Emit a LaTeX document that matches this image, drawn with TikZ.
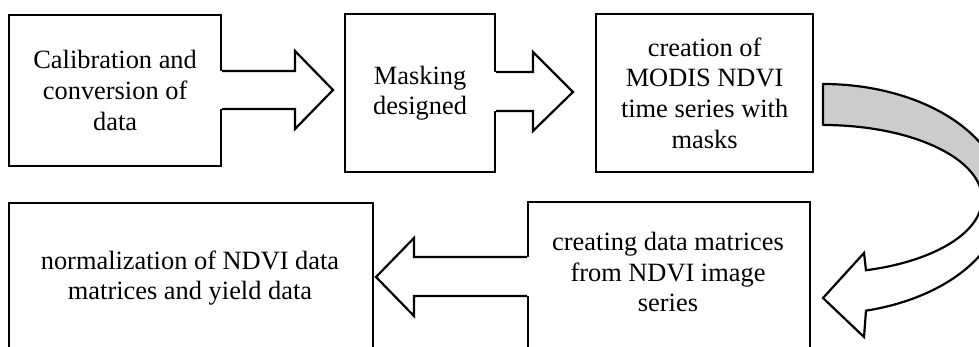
\documentclass[tikz,border=0pt]{standalone}
\usepackage{fontspec}
\setmainfont{Liberation Serif}
\begin{document}
\begin{tikzpicture}[x=1pt,y=-1pt,
  box/.style={draw=black, line width=2.2pt, fill=white, rectangle, inner sep=0pt, anchor=north west},
  txt/.style={align=center, inner sep=0pt, font=\fontsize{26.4}{30.8}\selectfont},
  blk/.style={line width=2.2pt, line join=miter},
  grayback/.style={fill=black!20, draw=black, line width=2.2pt, line join=round}]
\useasboundingbox (0,0) rectangle (979,347);
\clip (0,0) rectangle (979,347);
% boxes
\node[box, minimum width=212pt, minimum height=151pt] (b1) at (8,14) {};
\node[box, minimum width=150pt, minimum height=158pt] (b2) at (344,13) {};
\node[box, minimum width=217pt, minimum height=158pt] (b3) at (595,13) {};
\node[box, minimum width=282pt, minimum height=170pt] (b4) at (527,201) {};
\node[box, minimum width=364pt, minimum height=170pt] (b5) at (8,202) {};
% texts
\node[txt] (t1) at (b1.center) {Calibration and\\conversion of\\data};
\node[txt] (t2) at (b2.center) {Masking\\designed};
\node[txt] (t3) at (b3.center) {creation of\\MODIS NDVI\\time series with\\masks};
\node[txt] (t4) at (668,272) {creating data matrices\\from NDVI image\\series};
\node[txt] (t5) at (190,278) {normalization of NDVI data\\matrices and yield data};
% block arrow 1
\fill[white] (216,71) -- (295,71) -- (295,51) -- (333,90) -- (295,129) -- (295,109) -- (216,109) -- cycle;
\draw[blk] (b1.east |- 0,71) -- (295,71) -- (295,51) -- (333,90) -- (295,129) -- (295,109) -- (b1.east |- 0,109);
% block arrow 2
\fill[white] (490,72) -- (533,72) -- (533,52) -- (573,92) -- (533,131) -- (533,111) -- (490,111) -- cycle;
\draw[blk] (b2.east |- 0,72) -- (533,72) -- (533,52) -- (573,92) -- (533,131) -- (533,111) -- (b2.east |- 0,111);
% block arrow 3
\fill[white] (531,257) -- (414,257) -- (414,238) -- (376,277) -- (414,316) -- (414,296) -- (531,296) -- cycle;
\draw[blk] (b4.west |- 0,257) -- (414,257) -- (414,238) -- (376,277) -- (414,316) -- (414,296) -- (b4.west |- 0,296);
% curved arrow: grey back part
\filldraw[grayback] plot[domain=90:0, samples=60] ({823+180*cos(\x)},{199-115*sin(\x)})
  -- plot[domain=0:90, samples=60] ({823+159*cos(\x)},{199-74*sin(\x)}) -- cycle;
% curved arrow: white front part with head
\filldraw[fill=white, draw=black, line width=2.2pt, line join=miter]
  plot[domain=0:-76.18, samples=60] ({823+180*cos(\x)},{199-115*sin(\x)})
  -- (864,337) -- (823,298) -- (864,253) -- (866,270.2)
  -- plot[domain=-74.31:0, samples=60] ({823+159*cos(\x)},{199-74*sin(\x)}) -- cycle;
\end{tikzpicture}
\end{document}
